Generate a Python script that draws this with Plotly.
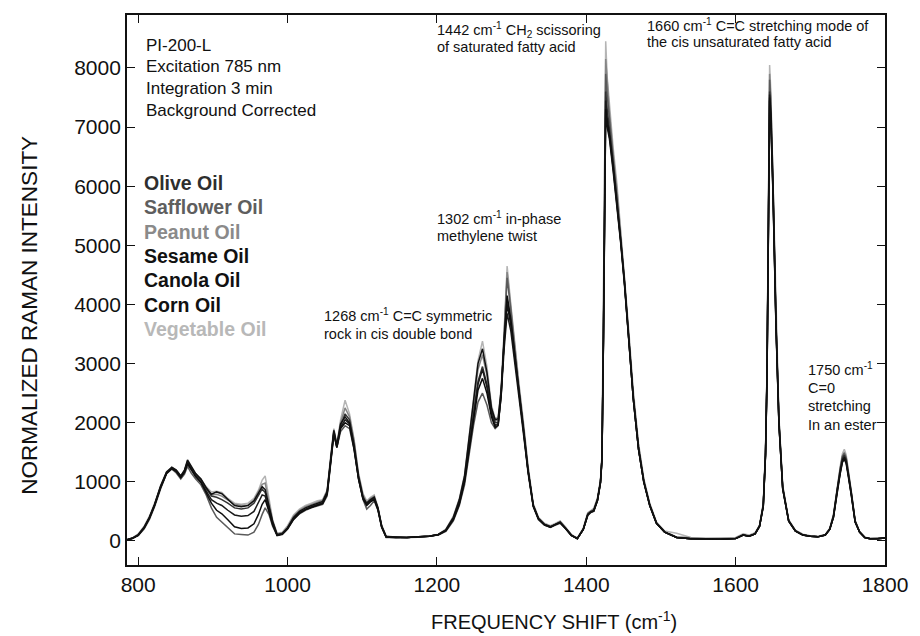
import plotly.graph_objects as go

# Raman shift grid (cm-1)
X = [785, 792, 800, 808, 815, 822, 830, 838, 845, 851,
     857, 862, 866, 871, 877, 884, 891, 898, 905, 912,
     920, 929, 938, 947, 955, 961, 966, 970, 975, 980,
     986, 993, 1000, 1008, 1016, 1024, 1032, 1040, 1047, 1053,
     1058, 1062, 1066, 1071, 1077, 1083, 1089, 1095, 1101, 1106,
     1111, 1116, 1121, 1126, 1132, 1145, 1160, 1175, 1190, 1202,
     1212, 1222, 1230, 1237, 1243, 1249, 1255, 1261, 1267, 1273,
     1278, 1282, 1286, 1290, 1294, 1299, 1304, 1310, 1316, 1322,
     1329, 1336, 1344, 1352, 1359, 1365, 1372, 1380, 1388, 1396,
     1402, 1406, 1410, 1415, 1419, 1421, 1423, 1424.5, 1426, 1428,
     1431, 1436, 1441, 1446, 1451, 1457, 1463, 1470, 1477, 1485,
     1494, 1505, 1521, 1540, 1560, 1580, 1600, 1610, 1618, 1626,
     1632, 1637, 1640, 1642, 1644, 1645.5, 1647, 1650, 1654, 1658,
     1663, 1671, 1680, 1690, 1700, 1710, 1720, 1726, 1731, 1736,
     1740, 1743, 1745.5, 1748, 1751, 1755, 1760, 1766, 1773, 1780,
     1790, 1800]

OLIVE = [20, 45, 100, 220, 380, 600, 900, 1150, 1230, 1180,
         1080, 1180, 1340, 1240, 1120, 1040, 900, 760, 740, 700,
         640, 560, 540, 560, 640, 780, 880, 820, 580, 320,
         110, 130, 220, 380, 480, 540, 580, 620, 650, 820,
         1400, 1850, 1600, 1950, 2150, 2050, 1650, 1100, 750, 620,
         680, 730, 550, 250, 70, 60, 60, 70, 80, 110,
         180, 380, 650, 1040, 1600, 2200, 2700, 2950, 2650, 2200,
         2000, 2000, 2500, 3400, 4100, 3700, 3200, 2550, 1900, 1200,
         600, 380, 280, 240, 280, 320, 220, 100, 40, 200,
         450, 500, 520, 700, 1000, 1400, 3500, 6000, 7600, 7300,
         7000, 6400, 5800, 5100, 4400, 3400, 2400, 1550, 1000, 600,
         300, 150, 60, 40, 30, 30, 40, 100, 80, 120,
         250, 600, 1480, 2800, 5500, 7600, 7300, 6000, 3700, 2000,
         900, 340, 170, 100, 80, 70, 100, 200, 420, 900,
         1200, 1400, 1450, 1380, 1150, 800, 330, 150, 60, 40,
         40, 50]

SAFFLOWER = [20, 50, 110, 240, 400, 620, 920, 1160, 1220, 1150,
             1050, 1130, 1260, 1150, 1050, 950, 780, 560, 400, 320,
             220, 120, 110, 100, 150, 280, 450, 560, 450, 250,
             90, 110, 200, 360, 460, 520, 560, 590, 620, 760,
             1300, 1800, 1580, 1850, 1950, 1900, 1550, 1050, 700, 540,
             600, 680, 520, 230, 60, 55, 60, 65, 80, 100,
             160, 340, 600, 950, 1450, 1950, 2350, 2500, 2300, 2000,
             1900, 1950, 2450, 3400, 4450, 3900, 3250, 2500, 1850, 1150,
             580, 360, 270, 230, 270, 300, 210, 90, 40, 190,
             430, 480, 500, 680, 980, 1350, 3500, 6100, 7900, 7550,
             7150, 6500, 5900, 5150, 4450, 3450, 2450, 1600, 1030, 620,
             310, 150, 60, 40, 30, 30, 40, 100, 80, 120,
             250, 620, 1500, 2850, 5600, 7800, 7450, 6100, 3750, 2050,
             920, 350, 170, 100, 80, 70, 100, 200, 430, 920,
             1220, 1430, 1480, 1400, 1170, 800, 340, 150, 60, 40,
             40, 50]

PEANUT = [20, 40, 90, 200, 360, 580, 880, 1140, 1240, 1200,
          1100, 1200, 1330, 1230, 1110, 1020, 880, 780, 790, 760,
          690, 620, 600, 610, 690, 830, 960, 980, 650, 340,
          120, 140, 240, 420, 520, 580, 620, 660, 690, 850,
          1450, 1880, 1620, 2000, 2250, 2100, 1700, 1120, 780, 650,
          720, 760, 560, 260, 80, 60, 60, 70, 80, 110,
          190, 400, 680, 1080, 1680, 2350, 2900, 3150, 2800, 2250,
          2020, 2050, 2550, 3500, 4550, 3950, 3300, 2600, 1950, 1250,
          620, 390, 290, 250, 290, 330, 230, 100, 50, 210,
          470, 510, 540, 720, 1020, 1420, 3550, 6200, 8150, 7700,
          7250, 6550, 5950, 5200, 4450, 3450, 2450, 1600, 1030, 620,
          310, 160, 70, 50, 40, 40, 50, 110, 90, 130,
          260, 620, 1500, 2850, 5650, 7900, 7500, 6100, 3750, 2050,
          920, 350, 180, 110, 85, 75, 105, 210, 440, 930,
          1230, 1440, 1500, 1420, 1180, 820, 340, 150, 60, 45,
          40, 50]

SESAME = [20, 45, 100, 230, 400, 620, 930, 1170, 1250, 1200,
          1100, 1200, 1370, 1260, 1140, 1050, 900, 790, 830, 800,
          700, 600, 580, 600, 680, 820, 920, 870, 600, 330,
          100, 120, 220, 400, 500, 560, 600, 640, 670, 830,
          1420, 1870, 1620, 1980, 2100, 2000, 1600, 1080, 730, 640,
          700, 740, 560, 250, 70, 60, 60, 70, 80, 110,
          190, 400, 700, 1100, 1700, 2400, 3000, 3250, 2850, 2250,
          2050, 2070, 2550, 3350, 4000, 3650, 3150, 2500, 1880, 1200,
          600, 380, 280, 240, 290, 320, 220, 100, 40, 200,
          450, 490, 510, 690, 990, 1380, 3400, 5800, 7250, 7000,
          6800, 6250, 5700, 5050, 4350, 3350, 2400, 1550, 1000, 600,
          300, 150, 60, 40, 30, 30, 40, 100, 80, 120,
          250, 590, 1450, 2750, 5400, 7500, 7200, 5900, 3650, 1980,
          890, 340, 170, 100, 80, 70, 100, 200, 410, 880,
          1170, 1370, 1420, 1350, 1130, 790, 330, 150, 60, 40,
          40, 50]

CANOLA = [20, 40, 95, 220, 380, 600, 900, 1140, 1220, 1170,
          1070, 1160, 1300, 1200, 1090, 1000, 850, 700, 640, 600,
          520, 440, 420, 430, 500, 640, 780, 760, 530, 290,
          100, 120, 210, 370, 470, 530, 570, 610, 640, 800,
          1380, 1830, 1590, 1920, 2050, 1980, 1580, 1060, 720, 620,
          680, 720, 540, 240, 70, 60, 60, 70, 80, 110,
          180, 370, 640, 1020, 1580, 2180, 2650, 2900, 2600, 2150,
          1950, 1980, 2450, 3250, 3850, 3550, 3050, 2450, 1850, 1180,
          590, 370, 270, 235, 280, 310, 215, 95, 40, 195,
          440, 490, 510, 690, 990, 1390, 3450, 5900, 7450, 7150,
          6900, 6350, 5750, 5100, 4400, 3400, 2400, 1550, 1000, 600,
          300, 150, 60, 40, 30, 30, 40, 100, 80, 120,
          250, 590, 1460, 2770, 5450, 7550, 7250, 5950, 3680, 1990,
          890, 340, 170, 100, 80, 70, 100, 195, 400, 870,
          1150, 1350, 1400, 1330, 1110, 780, 320, 150, 60, 40,
          40, 50]

CORN = [20, 45, 100, 225, 390, 610, 910, 1150, 1230, 1180,
        1080, 1170, 1320, 1210, 1090, 990, 820, 640, 520, 460,
        360, 240, 210, 220, 290, 450, 620, 700, 500, 270,
        95, 115, 210, 370, 470, 530, 570, 600, 630, 790,
        1360, 1820, 1580, 1900, 2000, 1950, 1560, 1050, 710, 600,
        660, 700, 530, 235, 65, 55, 60, 70, 80, 105,
        175, 360, 620, 1000, 1530, 2100, 2550, 2750, 2500, 2100,
        1920, 1960, 2480, 3400, 4150, 3750, 3200, 2520, 1880, 1190,
        590, 370, 275, 235, 280, 310, 215, 95, 40, 195,
        440, 490, 510, 690, 990, 1380, 3420, 5850, 7300, 7050,
        6850, 6300, 5720, 5080, 4380, 3380, 2400, 1550, 1000, 600,
        300, 150, 60, 40, 30, 30, 40, 100, 80, 120,
        245, 580, 1440, 2730, 5380, 7450, 7150, 5870, 3630, 1970,
        880, 335, 165, 100, 80, 70, 100, 195, 400, 860,
        1140, 1330, 1380, 1310, 1100, 770, 320, 150, 60, 40,
        40, 50]

VEGETABLE = [20, 50, 120, 250, 420, 640, 940, 1170, 1240, 1190,
             1090, 1190, 1330, 1240, 1130, 1050, 920, 830, 840, 820,
             720, 640, 620, 640, 720, 860, 1030, 1100, 700, 360,
             130, 150, 260, 440, 540, 600, 640, 680, 700, 860,
             1480, 1900, 1640, 2050, 2380, 2150, 1720, 1150, 800, 680,
             740, 780, 580, 270, 90, 65, 60, 70, 85, 115,
             200, 420, 720, 1120, 1750, 2450, 3050, 3380, 2950, 2300,
             2070, 2100, 2600, 3550, 4650, 4000, 3350, 2650, 2000, 1280,
             630, 400, 300, 260, 300, 340, 240, 110, 50, 220,
             480, 520, 550, 730, 1040, 1450, 3600, 6300, 8450, 7850,
             7350, 6650, 6050, 5300, 4550, 3550, 2550, 1650, 1060, 640,
             320, 170, 130, 60, 50, 50, 60, 120, 100, 140,
             270, 640, 1540, 2900, 5750, 8050, 7650, 6200, 3800, 2100,
             950, 360, 185, 115, 90, 80, 110, 215, 450, 950,
             1260, 1480, 1550, 1460, 1210, 840, 350, 160, 65, 45,
             45, 55]

SERIES = [
    ("Vegetable Oil", VEGETABLE, "#b4b4b4"),
    ("Peanut Oil", PEANUT, "#858585"),
    ("Safflower Oil", SAFFLOWER, "#5a5a5a"),
    ("Olive Oil", OLIVE, "#333333"),
    ("Canola Oil", CANOLA, "#1a1a1a"),
    ("Corn Oil", CORN, "#0d0d0d"),
    ("Sesame Oil", SESAME, "#111111"),
]

LEGEND_ORDER = [
    ("Olive Oil", "#2e2e2e"),
    ("Safflower Oil", "#5e5e5e"),
    ("Peanut Oil", "#8a8a8a"),
    ("Sesame Oil", "#111111"),
    ("Canola Oil", "#111111"),
    ("Corn Oil", "#111111"),
    ("Vegetable Oil", "#b8b8b8"),
]

fig = go.Figure()
for name, ys, color in SERIES:
    fig.add_trace(go.Scatter(x=X, y=ys, mode="lines", name=name,
                             line=dict(color=color, width=1.5),
                             showlegend=False))

W, H = 920, 636
L, R, T, B = 127, 30, 15, 71
PW, PH = W - L - R, H - T - B


def px(xp):
    return (xp - L) / PW


def py(yp):
    return (H - B - yp) / PH


FONT = "Liberation Sans, Arial, sans-serif"
ann = []


def text(xp, yp, s, size=13, color="#111111", bold=False, anchor="left", angle=0):
    if bold:
        s = "<b>" + s + "</b>"
    ann.append(dict(x=px(xp), y=py(yp), xref="paper", yref="paper", text=s,
                    showarrow=False, xanchor=anchor, yanchor="middle",
                    align="left", textangle=angle,
                    font=dict(family=FONT, size=size, color=color)))


# instrument info
for i, s in enumerate(["PI-200-L", "Excitation 785 nm", "Integration 3 min",
                       "Background Corrected"]):
    text(144, 45 + i * 21.7, s, size=17)

# legend (coloured text labels)
for i, (s, c) in enumerate(LEGEND_ORDER):
    text(142, 183 + i * 24.3, s, size=19.5, color=c, bold=True)

# peak annotations
AS = 14.5
text(437, 30, "1442 cm<sup>-1</sup> CH<sub>2</sub> scissoring", size=AS)
text(437, 47, "of saturated fatty acid", size=AS)
text(648, 25, "1660 cm<sup>-1</sup> C=C stretching mode of", size=AS)
text(648, 42, "the cis unsaturated fatty acid", size=AS)
text(437, 218, "1302 cm<sup>-1</sup> in-phase", size=AS)
text(437, 236, "methylene twist", size=AS)
text(323, 315, "1268 cm<sup>-1</sup> C=C symmetric", size=AS)
text(323, 334, "rock in cis double bond", size=AS)
for i, s in enumerate(["1750 cm<sup>-1</sup>", "C=0", "stretching", "In an ester"]):
    text(810, 369 + i * 18.5, s, size=AS)

# axis titles
text(557, 620, "FREQUENCY SHIFT (cm<sup>-1</sup>)", size=20, anchor="center")
text(28, 315, "NORMALIZED RAMAN INTENSITY", size=22.5, anchor="center", angle=-90)

fig.update_layout(
    width=W, height=H,
    margin=dict(l=L, r=R, t=T, b=B, pad=0),
    paper_bgcolor="white", plot_bgcolor="white",
    font=dict(family=FONT, color="#111111"),
    annotations=ann,
    xaxis=dict(range=[785, 1800], tickvals=[800, 1000, 1200, 1400, 1600, 1800],
               ticks="inside", ticklen=8, tickwidth=1.2, tickcolor="#111",
               showline=True, linecolor="#111", linewidth=1.8, mirror="ticks",
               showgrid=False, zeroline=False,
               tickfont=dict(size=21, family=FONT)),
    yaxis=dict(range=[-406, 8896], tickvals=list(range(0, 9000, 1000)),
               ticks="inside", ticklen=8, tickwidth=1.2, tickcolor="#111",
               showline=True, linecolor="#111", linewidth=1.8, mirror="ticks",
               showgrid=False, zeroline=False,
               tickfont=dict(size=21, family=FONT)),
)

fig.write_html("out.html")
